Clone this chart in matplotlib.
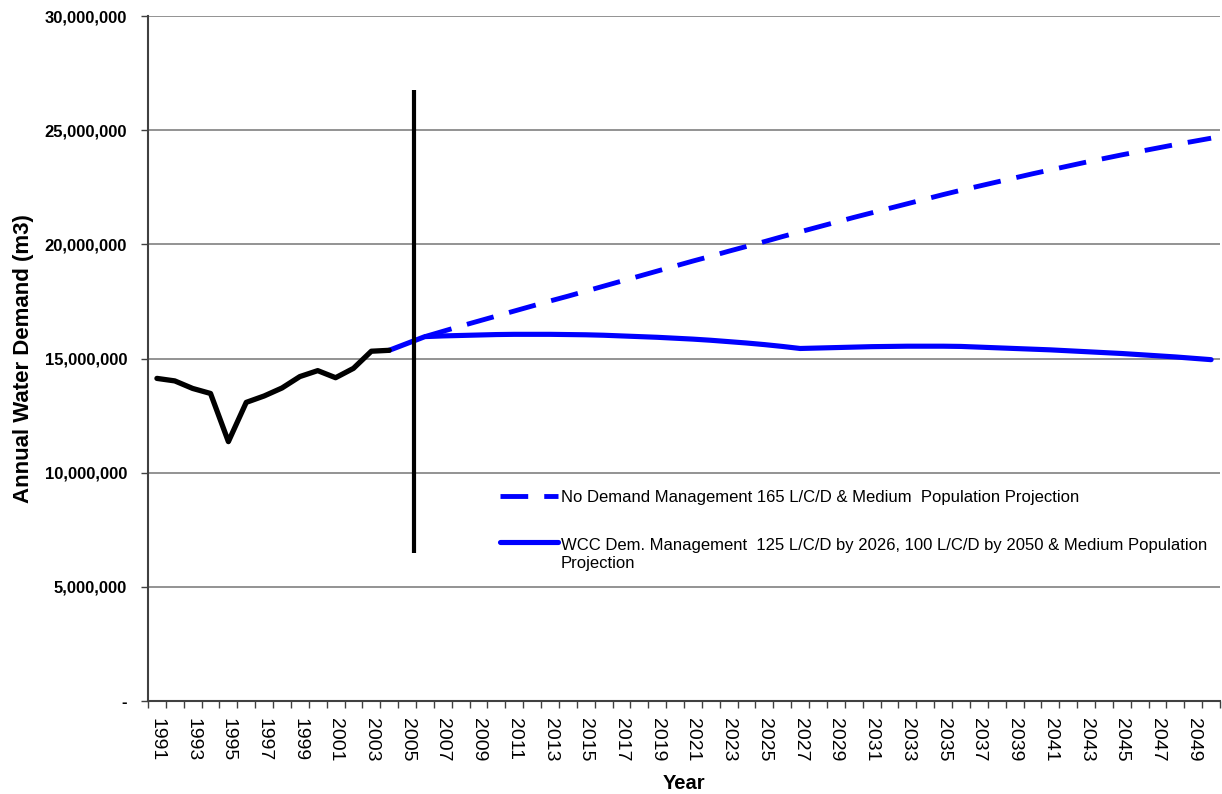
import matplotlib
matplotlib.use("Agg")
import matplotlib.pyplot as plt
from matplotlib.legend_handler import HandlerLine2D
import numpy as np

plt.rcParams['font.family'] = ['Liberation Sans', 'DejaVu Sans']

# years on the category axis
years = list(range(1991, 2051))

# recorded demand (m3), 1991-2004
hist_years = list(range(1991, 2005))
hist_demand = [14.13e6, 14.02e6, 13.69e6, 13.47e6, 11.36e6, 13.08e6, 13.36e6,
               13.71e6, 14.21e6, 14.47e6, 14.16e6, 14.57e6, 15.32e6, 15.36e6]

# no demand management projection, 2006-2050
nodm_years = list(range(2006, 2051))
nodm_demand = [15.96e6, 16.19e6, 16.42e6, 16.64e6, 16.86e6, 17.08e6, 17.30e6,
               17.52e6, 17.73e6, 17.95e6, 18.17e6, 18.39e6, 18.61e6, 18.83e6,
               19.05e6, 19.27e6, 19.48e6, 19.70e6, 19.91e6, 20.12e6, 20.34e6,
               20.55e6, 20.76e6, 20.97e6, 21.18e6, 21.38e6, 21.58e6, 21.78e6,
               21.98e6, 22.18e6, 22.37e6, 22.55e6, 22.73e6, 22.91e6, 23.09e6,
               23.26e6, 23.43e6, 23.60e6, 23.76e6, 23.92e6, 24.07e6, 24.22e6,
               24.37e6, 24.51e6, 24.65e6]

# WCC demand management projection, 2004-2050
wcc_years = list(range(2004, 2051))
wcc_demand = [15.36e6, 15.66e6, 15.96e6, 15.99e6, 16.01e6, 16.03e6, 16.05e6,
              16.06e6, 16.06e6, 16.06e6, 16.05e6, 16.04e6, 16.02e6, 15.99e6,
              15.96e6, 15.93e6, 15.89e6, 15.85e6, 15.80e6, 15.74e6, 15.68e6,
              15.61e6, 15.53e6, 15.44e6, 15.46e6, 15.48e6, 15.50e6, 15.52e6,
              15.53e6, 15.54e6, 15.54e6, 15.54e6, 15.53e6, 15.50e6, 15.47e6,
              15.44e6, 15.41e6, 15.38e6, 15.34e6, 15.30e6, 15.26e6, 15.22e6,
              15.17e6, 15.12e6, 15.07e6, 15.01e6, 14.95e6]

# divider between history and projection
divider_year = 2005.4
divider_span = [6.48e6, 26.76e6]

labels = ["No Demand Management 165 L/C/D & Medium  Population Projection",
          "WCC Dem. Management  125 L/C/D by 2026, 100 L/C/D by 2050 & Medium Population\nProjection"]


def pos(yrs):
    return np.asarray(yrs, dtype=float) - years[0]


class FirstLineHandler(HandlerLine2D):
    # put the legend line next to the first line of a wrapped label
    def __init__(self, shift, **kw):
        super().__init__(**kw)
        self.shift = shift

    def create_artists(self, legend, orig_handle, xdescent, ydescent,
                       width, height, fontsize, trans):
        arts = super().create_artists(legend, orig_handle, xdescent, ydescent,
                                      width, height, fontsize, trans)
        for a in arts:
            a.set_ydata(np.asarray(a.get_ydata()) + self.shift * fontsize)
        return arts


fig = plt.figure(figsize=(12.22, 7.94), dpi=100)
ax = fig.add_axes([0.1211, 0.1171, 0.8773, 0.8627])

blue = '#0000FF'
ax.plot(pos(hist_years), hist_demand, color='black', lw=3.8,
        solid_capstyle='round', solid_joinstyle='round', zorder=4)
l1, = ax.plot(pos(nodm_years), nodm_demand, color=blue, lw=3.5,
              dashes=(5.7, 3.3), zorder=3)
l2, = ax.plot(pos(wcc_years), wcc_demand, color=blue, lw=3.7,
              solid_capstyle='round', solid_joinstyle='round', zorder=3)
ax.vlines(pos([divider_year]), divider_span[0], divider_span[1],
          color='black', lw=3, zorder=5)

ax.set_xlim(-0.5, len(years) - 0.5)
ax.set_ylim(0, 30e6)

# category axis: ticks between categories, labels every other year
ax.set_xticks(np.arange(len(years) + 1) - 0.5)
ax.set_xticklabels([])
ax.set_xticks(pos(years[::2]), minor=True)
ax.set_xticklabels([str(y) for y in years[::2]], minor=True, rotation=-90,
                   fontsize=14)
ax.tick_params(axis='x', which='major', length=5, width=1, color='#404040')
ax.tick_params(axis='x', which='minor', length=0, pad=12)

yt = np.arange(0, 30e6 + 1, 5e6)
ax.set_yticks(yt)
ax.set_yticklabels(['-'] + [f"{v:,.0f}" for v in yt[1:]],
                   fontsize=12, fontweight='bold')
ax.tick_params(axis='y', length=5, width=1, color='#404040', pad=10)

ax.grid(axis='y', color='#808080', lw=1.2)
ax.set_axisbelow(True)
for s in ['top', 'right']:
    ax.spines[s].set_visible(False)
for s in ['left', 'bottom']:
    ax.spines[s].set_color('#404040')
    ax.spines[s].set_linewidth(1.5)

ax.set_xlabel('Year', fontsize=14.5, fontweight='bold', labelpad=9)
ax.set_ylabel('Annual Water Demand (m3)', fontsize=16, fontweight='bold',
              labelpad=8)

ax.legend([l1, l2], labels, loc='upper left', bbox_to_anchor=(0.3144, 0.33),
          frameon=False, fontsize=12, handlelength=3.5, handletextpad=0.15,
          labelspacing=2.0,
          handler_map={l2: FirstLineHandler(0.78)})

fig.savefig('out.png', dpi=100)
